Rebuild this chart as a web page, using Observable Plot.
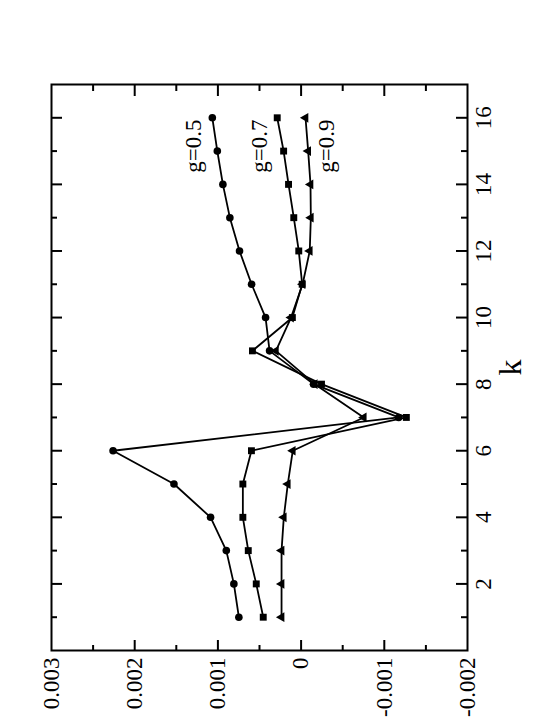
<!DOCTYPE html>
<html>
<head>
<meta charset="utf-8">
<script src="https://cdn.jsdelivr.net/npm/d3@7"></script>
<script src="https://cdn.jsdelivr.net/npm/@observablehq/plot@0.6"></script>
<style>
  html, body { margin: 0; padding: 0; background: #fff; overflow: hidden; width: 557px; height: 722px; }
  #wrap { position: absolute; left: 0; top: 0; width: 722px; height: 557px;
          transform-origin: 0 0; transform: translate(0px, 722px) rotate(-90deg); }
</style>
</head>
<body>
<div id="wrap"></div>
<script>
// ---- data ----
const kValues = [1, 2, 3, 4, 5, 6, 7, 8, 9, 10, 11, 12, 13, 14, 15, 16];
const g05 = [0.000748, 0.000808, 0.000899, 0.001088, 0.001528, 0.00226, -0.001173, -0.000150, 0.000379, 0.000427, 0.000595, 0.00074, 0.000856, 0.00094, 0.001007, 0.001067];
const g07 = [0.000455, 0.000539, 0.000635, 0.0007, 0.0007, 0.000597, -0.001265, -0.000245, 0.000585, 0.000105, -0.000013, 0.000028, 0.000088, 0.000151, 0.00021, 0.000287];
const g09 = [0.000235, 0.000235, 0.000235, 0.000208, 0.00016, 0.0001, -0.000753, -0.000165, 0.000303, 0.000121, -0.000018, -0.000104, -0.000117, -0.000113, -0.000085, -0.000053];

const seriesNames = ["g=0.5", "g=0.7", "g=0.9"];
const seriesSymbols = ["circle", "square", "triangle"];
const labelK = [14.35, 14.35, 14.35];
const labelValue = [0.001208, 0.000415, -0.0004];

const kTicks = [2, 4, 6, 8, 10, 12, 14, 16];
const kMinorTicks = [1, 3, 5, 7, 9, 11, 13, 15];
const yTicks = [-0.002, -0.001, 0, 0.001, 0.002, 0.003];
const yTickLabels = ["-0.002", "-0.001", "0", "0.001", "0.002", "0.003"];
const yInnerTicks = [-0.001, 0, 0.001, 0.002];
const yMinorTicks = [-0.0015, -0.0005, 0.0005, 0.0015, 0.0025];
const kAxisLabel = "k";

// ---- layout ----
const W = 722, H = 557;
const mL = 71, mR = 85, mT = 51, mB = 90;
const plotW = W - mL - mR, plotH = H - mT - mB;
const majorLen = 11, minorLen = 6;

const allSeries = [g05, g07, g09];
const rows = [];
allSeries.forEach((vals, i) => vals.forEach((v, j) => rows.push({k: kValues[j], v, s: seriesNames[i], sym: seriesSymbols[i]})));
const labels = seriesNames.map((n, i) => ({n, k: labelK[i], v: labelValue[i]}));

const fmt = d => yTickLabels[yTicks.findIndex(t => Math.abs(t - d) < 1e-9)];

const chart = Plot.plot({
  width: W, height: H,
  marginLeft: mL, marginRight: mR, marginTop: mT, marginBottom: mB,
  style: {fontFamily: "'Liberation Serif', 'Times New Roman', serif", color: "#000", background: "#fff", overflow: "visible"},
  x: {domain: [0, 17]},
  y: {domain: [-0.002, 0.003]},
  marks: [
    // ticks (inward, mirrored on all sides)
    Plot.tickX(kTicks, {x: d => d, insetTop: plotH - majorLen, stroke: "#000", strokeWidth: 2}),
    Plot.tickX(kTicks, {x: d => d, insetBottom: plotH - majorLen, stroke: "#000", strokeWidth: 2}),
    Plot.tickX(kMinorTicks, {x: d => d, insetTop: plotH - minorLen, stroke: "#000", strokeWidth: 2}),
    Plot.tickX(kMinorTicks, {x: d => d, insetBottom: plotH - minorLen, stroke: "#000", strokeWidth: 2}),
    Plot.tickY(yInnerTicks, {y: d => d, insetRight: plotW - majorLen, stroke: "#000", strokeWidth: 2}),
    Plot.tickY(yInnerTicks, {y: d => d, insetLeft: plotW - majorLen, stroke: "#000", strokeWidth: 2}),
    Plot.tickY(yMinorTicks, {y: d => d, insetRight: plotW - minorLen, stroke: "#000", strokeWidth: 2}),
    Plot.tickY(yMinorTicks, {y: d => d, insetLeft: plotW - minorLen, stroke: "#000", strokeWidth: 2}),
    Plot.frame({stroke: "#000", strokeWidth: 2}),
    Plot.axisX({ticks: kTicks, tickSize: 0, tickPadding: 7, fontSize: 23, label: null}),
    Plot.axisY({ticks: yTicks, tickSize: 0, tickPadding: 7, fontSize: 23, label: null, tickFormat: fmt}),
    Plot.text([kAxisLabel], {frameAnchor: "bottom", dy: 53, lineAnchor: "bottom", fontSize: 32, text: d => d}),
    // series
    Plot.line(rows, {x: "k", y: "v", z: "s", stroke: "#000", strokeWidth: 1.8}),
    Plot.dot(rows.filter(d => d.sym === "circle"), {x: "k", y: "v", symbol: "circle", r: 3.8, fill: "#000", stroke: "none"}),
    Plot.dot(rows.filter(d => d.sym === "square"), {x: "k", y: "v", symbol: "square", r: 3.9, fill: "#000", stroke: "none"}),
    Plot.dot(rows.filter(d => d.sym === "triangle"), {x: "k", y: "v", symbol: "triangle", r: 3.6, fill: "#000", stroke: "none"}),
    Plot.text(labels, {x: "k", y: "v", text: "n", textAnchor: "start", lineAnchor: "bottom", fontSize: 23, fill: "#000"})
  ]
});
document.getElementById("wrap").appendChild(chart);
</script>
</body>
</html>
